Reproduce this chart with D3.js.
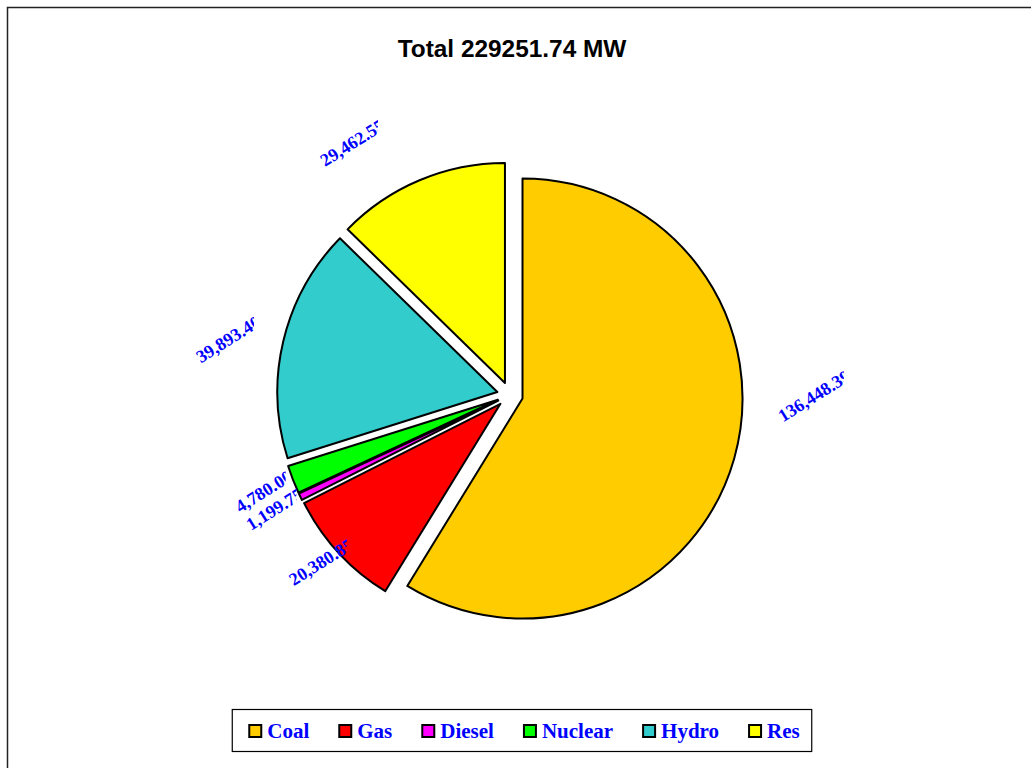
<!DOCTYPE html>
<html>
<head>
<meta charset="utf-8">
<script src="https://cdn.jsdelivr.net/npm/d3@7"></script>
<style>
  html, body { margin: 0; padding: 0; background: #fff; overflow: hidden; }
  svg { display: block; }
</style>
</head>
<body>
<svg id="chart" width="1031" height="768"></svg>
<script>
// data
const categories = ['Coal', 'Gas', 'Diesel', 'Nuclear', 'Hydro', 'Res'];
const capacityMW = [136448.39, 20380.85, 1199.75, 4780.00, 39893.40, 29462.55];
const totalMW = '229251.74';
const sliceColors = ['#FFCC00', '#FF0000', '#FF00FF', '#00FF00', '#33CCCC', '#FFFF00'];

const width = 1031, height = 768;
const cx = 510, cy = 395, radius = 220, explode = 13;
const ringX = cx + 10, ringY = cy - 4;
const labelRadius = 257, labelShift = 8 * Math.PI / 180, labelAngle = -32;
const serif = '"Liberation Serif", "Times New Roman", serif';

const svg = d3.select('#chart');
const defs = svg.append('defs');

// outer frame (runs off the page to the right and bottom)
svg.append('rect')
  .attr('x', 7.5).attr('y', 7.5).attr('width', 1100).attr('height', 900)
  .attr('fill', 'none').attr('stroke', '#222').attr('stroke-width', 1.5);

svg.append('text')
  .attr('x', 512).attr('y', 57)
  .attr('text-anchor', 'middle')
  .attr('font-family', '"Liberation Sans", Arial, sans-serif')
  .attr('font-weight', 'bold')
  .attr('font-size', 24.4)
  .text(`Total ${totalMW} MW`);

const pie = d3.pie().sort(null).value(d => d);
const arcs = pie(capacityMW);
const arc = d3.arc().innerRadius(0).outerRadius(radius);
const fmt = d3.format(',.2f');
const mid = d => (d.startAngle + d.endAngle) / 2;

const g = svg.append('g').attr('transform', `translate(${cx},${cy})`);
g.selectAll('path')
  .data(arcs)
  .enter()
  .append('path')
  .attr('d', arc)
  .attr('transform', d => `translate(${Math.sin(mid(d)) * explode},${-Math.cos(mid(d)) * explode})`)
  .attr('fill', (d, i) => sliceColors[i])
  .attr('stroke', '#000')
  .attr('stroke-width', 2)
  .attr('stroke-linejoin', 'round');

// value labels: rotated, the bottom corner nearest the pie sits on the label ring,
// and the last glyph is cut off on the right like in the original
const labels = svg.append('g');
const rad = labelAngle * Math.PI / 180;
const cos = Math.cos(rad), sin = Math.sin(rad);
arcs.forEach((d, i) => {
  const a = mid(d) - labelShift;
  const ax = ringX + Math.sin(a) * labelRadius;
  const ay = ringY - Math.cos(a) * labelRadius;
  const right = Math.sin(mid(d)) > 0;
  const lg = labels.append('g').attr('clip-path', `url(#lclip${i})`);
  const t = lg.append('text')
    .attr('font-family', serif)
    .attr('font-weight', 'bold')
    .attr('font-size', 18)
    .attr('fill', '#0000FF')
    .text(fmt(d.data));
  const b = t.node().getBBox();
  const corners = [[b.x, b.y], [b.x + b.width, b.y], [b.x, b.y + b.height], [b.x + b.width, b.y + b.height]]
    .map(([x, y]) => [x * cos - y * sin, x * sin + y * cos]);
  const minX = d3.min(corners, c => c[0]), maxX = d3.max(corners, c => c[0]);
  const maxY = d3.max(corners, c => c[1]);
  const tx = right ? ax - minX : ax - maxX;
  const ty = ay - maxY;
  t.attr('transform', `translate(${tx},${ty}) rotate(${labelAngle})`);
  const endX = tx + t.node().getComputedTextLength() * cos;
  defs.append('clipPath').attr('id', `lclip${i}`)
    .append('rect')
    .attr('x', endX - 400).attr('y', 0)
    .attr('width', 400 - 8).attr('height', height);
});

// legend
const legend = svg.append('g');
let lx = 0;
categories.forEach((c, i) => {
  legend.append('rect')
    .attr('x', lx + 1).attr('y', 725)
    .attr('width', 12).attr('height', 12)
    .attr('fill', sliceColors[i])
    .attr('stroke', '#000').attr('stroke-width', 2);
  const t = legend.append('text')
    .attr('x', lx + 19).attr('y', 738)
    .attr('font-family', serif)
    .attr('font-weight', 'bold')
    .attr('font-size', 21)
    .attr('fill', '#0000FF')
    .text(c);
  lx += 19 + t.node().getComputedTextLength() + 29;
});
const legendW = lx - 29;
const legendX = 524 - legendW / 2;
legend.attr('transform', `translate(${legendX},0)`);
svg.insert('rect', 'g')
  .attr('x', legendX - 16).attr('y', 709.5)
  .attr('width', legendW + 28).attr('height', 42)
  .attr('fill', '#fff').attr('stroke', '#000').attr('stroke-width', 1.2);
</script>
</body>
</html>
